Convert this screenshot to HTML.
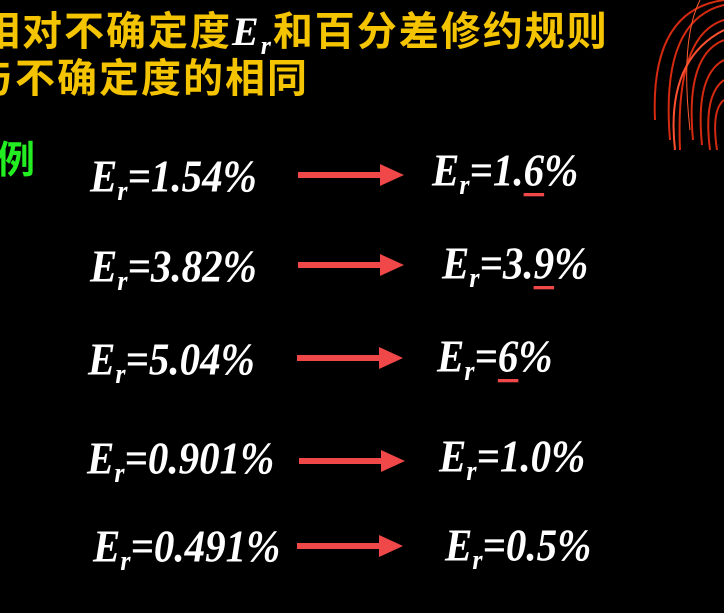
<!DOCTYPE html>
<html><head><meta charset="utf-8">
<style>
html,body{margin:0;padding:0;background:#000;}
#slide{position:relative;width:724px;height:613px;overflow:hidden;background:#000;}
.t{position:absolute;font-family:"Liberation Sans","Noto Sans CJK SC",sans-serif;font-weight:bold;color:#f5c400;font-size:40px;letter-spacing:2px;white-space:nowrap;line-height:1;}
.t i{font-family:"Liberation Serif",serif;color:#fff;font-style:italic;}
.f{position:absolute;font-family:"Liberation Serif",serif;font-style:italic;font-weight:bold;color:#fff;font-size:41px;white-space:nowrap;line-height:1;transform:scaleY(1.1);transform-origin:0 100%;}
.f sub{font-size:26px;vertical-align:-8px;line-height:0;}
.u{text-decoration:underline;text-decoration-color:#f04848;text-decoration-thickness:3px;text-underline-offset:7px;}
.arrow{position:absolute;height:30px;}
</style></head><body>
<div id="slide">
<svg style="position:absolute;left:645px;top:0" width="79" height="150">
 <g fill="none" stroke="#d42a10" stroke-width="2">
  <path d="M79 5 Q15 20 25 140"/><path d="M79 20 Q30 35 35 150"/><path d="M79 40 Q40 55 48 140"/>
  <path d="M79 60 Q50 75 57 145"/><path d="M79 80 Q58 95 65 150"/><path d="M79 0 Q5 10 10 120"/>
  <path d="M79 30 Q20 60 30 150" stroke="#ff5030"/>
  <path d="M55 0 Q35 40 45 130" stroke="#ff5a30" stroke-width="1"/><path d="M79 100 Q66 110 72 150"/>
 </g>
</svg>
<div class="t" style="left:-20px;top:12px;">相对不确定度<i>E<sub style="font-size:26px">r</sub></i>和百分差修约规则</div>
<div class="t" style="left:-27px;top:59px;">与不确定度的相同</div>
<div class="t" style="left:-3px;top:142px;color:#22ee22;font-size:38px;">例</div>

<div class="f" style="left:90px;top:158px;">E<sub>r</sub>=1.54%</div>
<div class="f" style="left:432px;top:152px;">E<sub>r</sub>=1.<span class="u">6</span>%</div>
<div class="f" style="left:90px;top:248px;">E<sub>r</sub>=3.82%</div>
<div class="f" style="left:442px;top:245px;">E<sub>r</sub>=3.<span class="u">9</span>%</div>
<div class="f" style="left:88px;top:341px;">E<sub>r</sub>=5.04%</div>
<div class="f" style="left:437px;top:338px;">E<sub>r</sub>=<span class="u">6</span>%</div>
<div class="f" style="left:87px;top:440px;">E<sub>r</sub>=0.901%</div>
<div class="f" style="left:439px;top:438px;">E<sub>r</sub>=1.0%</div>
<div class="f" style="left:93px;top:528px;">E<sub>r</sub>=0.491%</div>
<div class="f" style="left:445px;top:527px;">E<sub>r</sub>=0.5%</div>

<svg class="arrow" style="left:298px;top:160px" width="106" height="30"><rect x="0" y="12" width="84" height="6" fill="#f04848"/><polygon points="82,4 106,15 82,26" fill="#f04848"/></svg>
<svg class="arrow" style="left:298px;top:250px" width="106" height="30"><rect x="0" y="12" width="84" height="6" fill="#f04848"/><polygon points="82,4 106,15 82,26" fill="#f04848"/></svg>
<svg class="arrow" style="left:297px;top:343px" width="106" height="30"><rect x="0" y="12" width="84" height="6" fill="#f04848"/><polygon points="82,4 106,15 82,26" fill="#f04848"/></svg>
<svg class="arrow" style="left:299px;top:446px" width="106" height="30"><rect x="0" y="12" width="84" height="6" fill="#f04848"/><polygon points="82,4 106,15 82,26" fill="#f04848"/></svg>
<svg class="arrow" style="left:297px;top:531px" width="106" height="30"><rect x="0" y="12" width="84" height="6" fill="#f04848"/><polygon points="82,4 106,15 82,26" fill="#f04848"/></svg>
</div>
</body></html>
